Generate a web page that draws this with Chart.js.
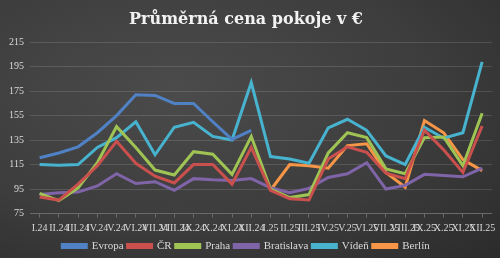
<!DOCTYPE html>
<html>
<head>
<meta charset="utf-8">
<script src="https://cdn.jsdelivr.net/npm/chart.js@4.4.1/dist/chart.umd.min.js"></script>
<style>
    html, body { margin: 0; padding: 0; }
    body {
        width: 500px; height: 258px; overflow: hidden;
        background: radial-gradient(ellipse at 35% 35%, #4b4b4b 0%, #3d3d3d 55%, #2b2b2b 100%);
    }
    #wrap { width: 500px; height: 258px; position: relative; }
</style>
</head>
<body>
<div id="wrap"><canvas id="priceChart"></canvas></div>
<script>
// Měsíce (popisky osy X)
const months = ['I.24', 'II.24', 'III.24', 'IV.24', 'V.24', 'VI.24', 'VII.24', 'VIII.24', 'IX.24', 'X.24', 'XI.24', 'XII.24',
                'I.25', 'II.25', 'III.25', 'IV.25', 'V.25', 'VI.25', 'VII.25', 'VIII.25', 'IX.25', 'X.25', 'XI.25', 'XII.25'];

// Hodnoty
const evropa = [120.5, 124.5, 129.5, 141, 155, 172, 171.5, 165, 165, 150, 135.5, 143,
                null, null, null, null, null, null, null, null, null, null, null, null];
const cr = [88.5, 86, 99, 114, 134, 116, 105.5, 100, 115, 115, 99, 129,
            94, 87, 86, 119.5, 129.5, 125, 108, 103.5, 143, 127, 108.5, 146.5];
const praha = [91.5, 85.5, 96, 116.5, 146, 129, 110.5, 106.5, 125.5, 123.5, 107, 138,
               95, 88, 90.5, 124.5, 141, 137, 111.5, 107.5, 137, 137.5, 114, 157];
const bratislava = [90.5, 92, 92.5, 97.5, 107.5, 99.5, 101, 94, 103.5, 102.5, 102, 103.5,
                    96, 92, 95.5, 104.5, 107.5, 116.5, 95, 98, 107, 106, 105, 112];
const viden = [115, 114.5, 115, 129, 137, 150, 123, 145.5, 149.5, 138, 135, 182,
               121.5, 119.5, 116, 145, 152, 143, 122, 115, 145.5, 136.5, 141, 199];
const berlin = [null, null, null, null, null, null, null, null, null, null, null, null,
                94, 115, 114, 112, 130.5, 132, 108.5, 96.5, 151, 141, 119, 110];

// Osa Y
const yMin = 75;
const yMax = 215;
const yStep = 20;

const textColor = '#d9d9d9';
const serif = "'Liberation Serif', 'DejaVu Serif', serif";

function series(label, data, color) {
    return {
        label: label,
        data: data,
        borderColor: color,
        backgroundColor: color,
        borderWidth: 3,
        pointRadius: 0,
        tension: 0,
        spanGaps: false
    };
}

// legenda je jinak moc vysoká (Chart.js přidává +10), tak ji zmenšíme
const legendHeight = {
    id: 'legendHeight',
    beforeUpdate(chart) {
        const legend = chart.legend;
        if (legend && !legend._patched) {
            const origFit = legend.fit;
            legend.fit = function () {
                origFit.call(this);
                this.height = 21.5;
            };
            legend._patched = true;
        }
    }
};

const ctx = document.getElementById('priceChart').getContext('2d');
const priceChart = new Chart(ctx, {
    type: 'line',
    data: {
        labels: months,
        datasets: [
            series('Evropa', evropa, '#4f81c4'),
            series('ČR', cr, '#c9504d'),
            series('Praha', praha, '#9fc454'),
            series('Bratislava', bratislava, '#8064a8'),
            series('Vídeň', viden, '#47b3cf'),
            series('Berlín', berlin, '#f79646')
        ]
    },
    plugins: [legendHeight],
    options: {
        responsive: true,
        maintainAspectRatio: false,
        animation: false,
        layout: { padding: { left: 0, right: 8, top: 0, bottom: 0 } },
        plugins: {
            title: {
                display: true,
                text: 'Průměrná cena pokoje v €',
                color: '#f2f2f2',
                font: { family: "'DejaVu Serif', serif", size: 16, weight: 'bold' },
                padding: { top: 10, bottom: 13 }
            },
            legend: {
                position: 'bottom',
                labels: {
                    color: textColor,
                    font: { family: serif, size: 11 },
                    boxWidth: 24,
                    boxHeight: 3,
                    padding: 4
                }
            },
            tooltip: { enabled: false }
        },
        scales: {
            x: {
                offset: true,
                ticks: {
                    autoSkip: false,
                    maxRotation: 0,
                    minRotation: 0,
                    color: textColor,
                    font: { family: serif, size: 10 },
                    padding: 4.5
                },
                grid: { drawOnChartArea: false, tickLength: 4, color: '#6a6a6a' },
                border: { color: '#6a6a6a' },
                afterFit: (axis) => { axis.height = 23; }
            },
            y: {
                min: yMin,
                max: yMax,
                ticks: {
                    stepSize: yStep,
                    color: textColor,
                    font: { family: serif, size: 10 },
                    padding: 6
                },
                grid: { color: 'rgba(255,255,255,0.13)', drawTicks: false },
                border: { display: false },
                afterFit: (axis) => { axis.width = 30; }
            }
        }
    }
});
</script>
</body>
</html>
